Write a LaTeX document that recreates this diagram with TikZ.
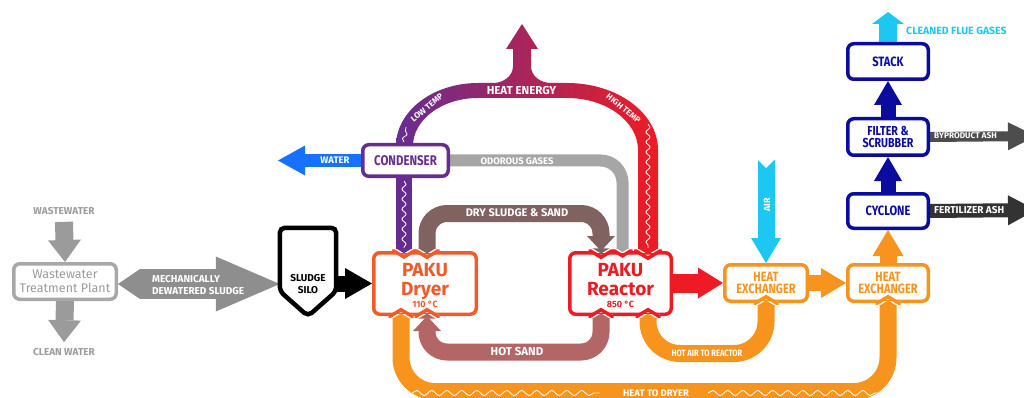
\documentclass[tikz,border=0pt]{standalone}
\usepackage{fontspec}
\setmainfont{Fira Sans}
\newfontfamily\cond[FakeStretch=0.82]{Fira Sans}
\usetikzlibrary{arrows.meta,decorations.pathmorphing,calc,backgrounds}

\definecolor{grayline}{HTML}{9B9B9B}
\definecolor{graybox}{HTML}{A8A8A8}
\definecolor{sludgegray}{HTML}{8E8E8E}
\definecolor{dryercol}{HTML}{F15A29}
\definecolor{reactorcol}{HTML}{ED1C24}
\definecolor{condcol}{HTML}{662D91}
\definecolor{heatmid}{HTML}{9E1F63}
\definecolor{watercol}{HTML}{1671FF}
\definecolor{odorcol}{HTML}{A6A6A6}
\definecolor{drycol}{HTML}{806260}
\definecolor{sandcol}{HTML}{B36666}
\definecolor{hxcol}{HTML}{F7941D}
\definecolor{aircol}{HTML}{1CC8F2}
\definecolor{cleancol}{HTML}{0B0B9E}
\definecolor{ashcol}{HTML}{4D4D4D}
\definecolor{fertcol}{HTML}{333333}

\newcommand{\fsz}[2]{\fontsize{#1}{#2}\selectfont}

% notch where a band enters a box: x, y, direction, box colour, band colour, half width
\newcommand{\notch}[6]{%
  \begin{scope}[shift={(#1,#2)}, yscale=#3]
    \fill[white] ({-#6-3},-2) rectangle ({#6+3},2);
    \fill[#5] (-#6,-2.6) -- (#6,-2.6) -- (0,{0.6*#6-2.6}) -- cycle;
    \draw[#4, line width=3.5pt, line join=miter] ({-#6-4},0) -- ({-#6-2},0) -- (0,{0.6*#6+1.2}) -- ({#6+2},0) -- ({#6+4},0);
  \end{scope}}

\tikzset{
  box/.style={draw, fill=white, line width=3.5pt, rounded corners=6pt, inner sep=0pt, align=center},
  fat/.style 2 args={-{Triangle[length=#1, width=#2, line width=0pt]}},
  wave/.style={white, line width=0.8pt, decorate, decoration={snake, amplitude=2pt, segment length=10pt}},
  longwave/.style={white, line width=0.8pt, decorate, decoration={snake, amplitude=2.5pt, segment length=15pt}},
  lbl/.style={text=white, inner sep=0pt, font=\bfseries\fsz{#1}{#1}},
  lbl/.default=10
}

\begin{document}
\begin{tikzpicture}[x=1pt, y=-1pt]
\useasboundingbox (0,0) rectangle (1024,398);
\clip (0,0) rectangle (1024,398);

% boxes
\node[box, draw=graybox, text=grayline, minimum width=102.5pt, minimum height=35.5pt, font=\fsz{12.5}{13.5}] (wwtp) at (65,281.5) {Wastewater\\Treatment Plant};
\node[minimum width=56pt, minimum height=88pt, inner sep=0pt] (silo) at (308,272) {};
\draw[line width=4.5pt, rounded corners=5pt, fill=white] (silo.north west) -- (silo.north east) -- ($(silo.south east)+(0,-25)$) -- (silo.south) -- ($(silo.south west)+(0,-25)$) -- cycle;
\node[box, draw=dryercol, text=dryercol, minimum width=102.5pt, minimum height=61.5pt, font=\bfseries\fsz{19}{19}] (dryer) at (425,283.5) {PAKU\\Dryer\rule[-8pt]{0pt}{8pt}};
\node[box, draw=reactorcol, text=reactorcol, minimum width=101.5pt, minimum height=61.5pt, font=\bfseries\fsz{19}{19}] (reactor) at (620.5,283.5) {PAKU\\Reactor\rule[-8pt]{0pt}{8pt}};
\node[box, draw=condcol, text=condcol, minimum width=85.5pt, minimum height=31.5pt, font=\cond\bfseries\fsz{14}{14}] (condenser) at (405.5,160.5) {CONDENSER};
\node[box, draw=hxcol, text=hxcol, minimum width=82.5pt, minimum height=36.5pt, font=\cond\bfseries\fsz{13.5}{11.5}] (hx1) at (766,283) {HEAT\\EXCHANGER};
\node[box, draw=hxcol, text=hxcol, minimum width=80.5pt, minimum height=36.5pt, font=\cond\bfseries\fsz{13.5}{11.5}] (hx2) at (888,283) {HEAT\\EXCHANGER};
\node[box, draw=cleancol, text=cleancol, minimum width=80.5pt, minimum height=34.5pt, font=\cond\bfseries\fsz{13.5}{12}] (cyclone) at (888,211) {CYCLONE};
\node[box, draw=cleancol, text=cleancol, minimum width=80.5pt, minimum height=36.5pt, font=\cond\bfseries\fsz{13}{12}] (filter) at (888,137) {FILTER \&\\SCRUBBER};
\node[box, draw=cleancol, text=cleancol, minimum width=80.5pt, minimum height=35.5pt, font=\cond\bfseries\fsz{13.5}{12}] (stack) at (888,61.5) {STACK};

% free ends
\coordinate (waterend) at (278,160.5);
\coordinate (airtop) at (766,160);
\coordinate (flueend) at (888,12);
\coordinate (byend) at (1036,136);
\coordinate (fertend) at (1036,210);

% outside labels
\node[text=grayline, inner sep=0pt, font=\bfseries\fsz{10}{10}] (wwlabel) at (64,211) {WASTEWATER};
\node[text=grayline, inner sep=0pt, font=\bfseries\fsz{10}{10}] (cleanlabel) at (64,352) {CLEAN WATER};
\node[font=\bfseries\fsz{10}{12.5}, align=center, inner sep=0pt] (silotext) at (308,284) {SLUDGE\\SILO};
\node[text=dryercol, inner sep=0pt, font=\bfseries\fsz{9}{9}] (dryertemp) at (425,304) {110 °C};
\node[text=reactorcol, inner sep=0pt, font=\bfseries\fsz{9}{9}] (reactortemp) at (620.5,304) {850 °C};
\node[text=aircol, anchor=west, inner sep=0pt, font=\bfseries\fsz{10.5}{10.5}] (fluelabel) at (906,31) {CLEANED FLUE GASES};

\begin{scope}[on background layer]
  % wastewater side
  \draw[grayline, line width=18pt, fat={22pt}{33pt}] ([yshift=-7pt]wwlabel.south) -- (wwtp.north);
  \draw[grayline, line width=18pt, fat={22pt}{33pt}] (wwtp.south) -- ([yshift=6pt]cleanlabel.north);
  \draw[sludgegray, line width=30pt, {Triangle[length=22pt, width=30pt, line width=0pt]}-{Triangle[length=64pt, width=55pt, line width=0pt]}] (wwtp.east |- silotext) -- (silo.west |- silotext);
  \draw[black, line width=16pt, fat={27pt}{31pt}] (silo.east |- dryer.west) -- (dryer.west);

  % heat energy
  \shade[left color=condcol, middle color=heatmid, right color=reactorcol]
    (396,143) -- (396,146) arc[start angle=180, end angle=270, x radius=82, y radius=63]
    -- (493,83) to[out=0, in=-90] (513,66) -- (513,49) -- (506,49) -- (522,24) -- (538,49) -- (531,49)
    -- (531,66) to[out=-90, in=180] (551,83)
    -- (567,83) arc[start angle=270, end angle=360, x radius=91, y radius=67]
    -- (658,251) -- (638,251) -- (638,150)
    arc[start angle=360, end angle=270, x radius=71, y radius=52]
    -- (478,98) arc[start angle=270, end angle=180, x radius=65, y radius=48]
    -- (413,143) -- cycle;
  \draw[condcol, line width=16pt] (404,0 |- condenser.south) -- (404,0 |- dryer.north);
  \draw[wave] (404,181) -- (404,248);
  \draw[wave] (404,142) -- (406,127);
  \draw[wave] (648,124) -- (648,248);

  % condenser outputs
  \draw[watercol, line width=13pt, fat={27pt}{30pt}] (condenser.west) -- (waterend);
  \draw[odorcol, line width=12pt, rounded corners=22pt] (condenser.east) -- (622.5,0 |- condenser.east) -- (622.5,0 |- reactor.north);

  % sand loop
  \draw[drycol, line width=17pt, rounded corners=20pt, fat={15pt}{28pt}] (427,0 |- dryer.north) -- (427,213.5) -- (601,213.5) -- (601,0 |- reactor.north);
  \draw[sandcol, line width=17pt, rounded corners=20pt, fat={15pt}{28pt}] (601,0 |- reactor.south) -- (601,352) -- (427,352) -- (427,0 |- dryer.south);

  % hot gases and air
  \draw[hxcol, line width=17pt, rounded corners=34pt] (hx2.south) -- (888,391.5) -- (401,391.5) -- (401,0 |- dryer.south);
  \draw[hxcol, line width=17pt, rounded corners=32pt] (hx1.south) -- (766,353.5) -- (648,353.5) -- (648,0 |- reactor.south);
  \draw[longwave] (412,393) -- (600,393);
  \draw[longwave] (708,393) -- (878,393);
  \draw[reactorcol, line width=19pt, fat={25pt}{31pt}] (reactor.east |- hx1.west) -- (hx1.west);
  \draw[hxcol, line width=16pt, fat={25pt}{30pt}] (hx1.east) -- (hx2.west);
  \draw[aircol, line width=17pt, fat={25pt}{30pt}] (airtop) -- (hx1.north);
  \fill[white] (757,159) -- (775,159) -- (766,168) -- cycle;

  % flue gas cleaning
  \draw[hxcol, line width=17pt, fat={26pt}{31pt}] (hx2.north) -- (cyclone.south);
  \draw[cleancol, line width=15pt, fat={24pt}{28pt}] (cyclone.north) -- (filter.south);
  \draw[cleancol, line width=15pt, fat={24pt}{28pt}] (filter.north) -- (stack.south);
  \draw[aircol, line width=18pt, fat={12pt}{32pt}] (stack.north) -- (flueend);
  \draw[ashcol, line width=10pt, fat={28pt}{28pt}] (filter.east) -- (byend);
  \draw[fertcol, line width=14pt, fat={28pt}{30pt}] (cyclone.east) -- (fertend);
\end{scope}

% band labels
\node[lbl, anchor=west, align=left, font=\bfseries\fsz{10}{11.5}] (mechlabel) at (152,285) {MECHANICALLY\\DEWATERED SLUDGE};
\node[lbl=9.5] (waterlabel) at (335,160.5) {WATER};
\node[lbl=9.5] (odorlabel) at (517,161) {ODOROUS GASES};
\node[lbl=11.5] (heatlabel) at (521.5,91) {HEAT ENERGY};
\node[lbl=8.3, rotate=40] (lowtemp) at (427,107.5) {LOW TEMP};
\node[lbl=8.3, rotate=-39] (hightemp) at (623.5,108.5) {HIGH TEMP};
\node[lbl=11] (drylabel) at (517,213) {DRY SLUDGE \& SAND};
\node[lbl=11.5] (sandlabel) at (517,352) {HOT SAND};
\node[lbl, font=\cond\bfseries\fsz{9.2}{9.2}] (hotairlabel) at (707,353) {HOT AIR TO REACTOR};
\node[lbl=9.5] (dryheatlabel) at (656,393) {HEAT TO DRYER};
\node[lbl=9, rotate=90] (airlabel) at (767,205) {AIR};
\node[lbl=8.3, anchor=west] (bylabel) at (934,136) {BYPRODUCT ASH};
\node[lbl=10, anchor=west] (fertlabel) at (934,210) {FERTILIZER ASH};

% notches
\notch{404}{251}{1}{dryercol}{condcol}{8}
\notch{427}{251}{1}{dryercol}{drycol}{8.5}
\notch{401}{316}{-1}{dryercol}{hxcol}{8.5}
\notch{427}{316}{-1}{dryercol}{sandcol}{8.5}
\notch{601}{251}{1}{reactorcol}{drycol}{8.5}
\notch{622.5}{251}{1}{reactorcol}{odorcol}{6}
\notch{648}{251}{1}{reactorcol}{reactorcol}{10}
\notch{601}{316}{-1}{reactorcol}{sandcol}{8.5}
\notch{648}{316}{-1}{reactorcol}{hxcol}{8.5}
\notch{766}{303}{-1}{hxcol}{hxcol}{8.5}
\notch{888}{303}{-1}{hxcol}{hxcol}{8.5}
\end{tikzpicture}
\end{document}
